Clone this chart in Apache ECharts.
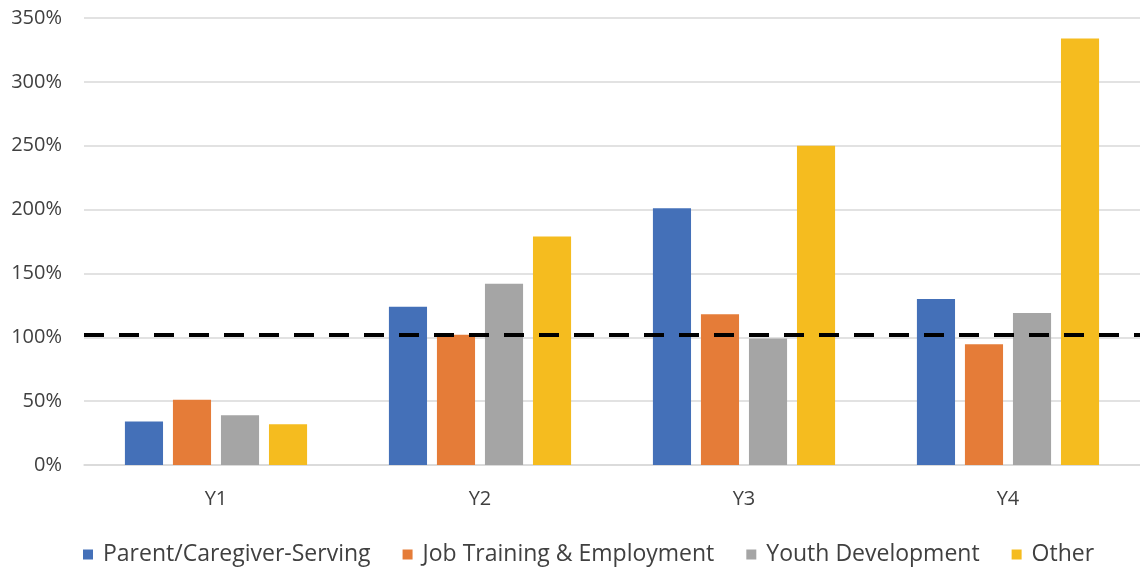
<!DOCTYPE html>
<html>
<head>
<meta charset="utf-8">
<script src="https://cdn.jsdelivr.net/npm/echarts@6/dist/echarts.min.js"></script>
<style>
  html, body { margin: 0; padding: 0; background: #fff; }
  #chart { width: 1140px; height: 569px; }
</style>
</head>
<body>
<div id="chart"></div>
<script>
// Categories (years) and the four program groups, values in percent
const years = ['Y1', 'Y2', 'Y3', 'Y4'];
const parentCaregiver = [34, 124, 201, 130];
const jobTraining = [51, 102, 118, 94.5];
const youthDevelopment = [39, 142, 99, 119];
const other = [32, 179, 250, 334];
const target = 102;          // dashed reference level
const yTicks = { min: 0, max: 350, step: 50 };

const seriesNames = ['Parent/Caregiver-Serving', 'Job Training & Employment', 'Youth Development', 'Other'];
const seriesValues = [parentCaregiver, jobTraining, youthDevelopment, other];
const colors = ['#4470B8', '#E57C38', '#A5A5A5', '#F5BC1F'];

const FONT = 'Open Sans';
const chart = echarts.init(document.getElementById('chart'), null, { renderer: 'canvas' });

const series = seriesValues.map((vals, i) => ({
  name: seriesNames[i],
  type: 'bar',
  data: vals,
  barGap: '26%',
  barCategoryGap: '31%',
  itemStyle: { color: colors[i] },
  emphasis: { disabled: true }
}));

// reference line drawn across the whole plot
series[series.length - 1].markLine = {
  silent: true,
  symbol: ['none', 'none'],
  label: { show: false },
  lineStyle: { color: '#000', width: 4, type: [20, 15] },
  data: [{ yAxis: target }],
  z: 10
};

chart.setOption({
  animation: false,
  color: colors,
  grid: { left: 84, right: 0, top: 18, bottom: 104 },
  legend: {
    top: 538,
    left: 78,
    icon: 'rect',
    itemWidth: 10,
    itemHeight: 10,
    itemGap: 32,
    textStyle: { fontFamily: FONT, fontSize: 23, color: '#404040', padding: [0, 0, 0, 5] },
    data: seriesNames
  },
  xAxis: {
    type: 'category',
    data: years,
    axisLine: { show: true, lineStyle: { color: '#D9D9D9', width: 1.5 } },
    axisTick: { show: false },
    axisLabel: { fontFamily: FONT, fontSize: 20, color: '#404040', margin: 24 }
  },
  yAxis: {
    type: 'value',
    min: yTicks.min,
    max: yTicks.max,
    interval: yTicks.step,
    axisLine: { show: false },
    axisTick: { show: false },
    splitLine: { lineStyle: { color: '#D9D9D9', width: 1.5 } },
    axisLabel: { fontFamily: FONT, fontSize: 20, color: '#404040', margin: 22, formatter: '{value}%' }
  },
  series
});
</script>
</body>
</html>
